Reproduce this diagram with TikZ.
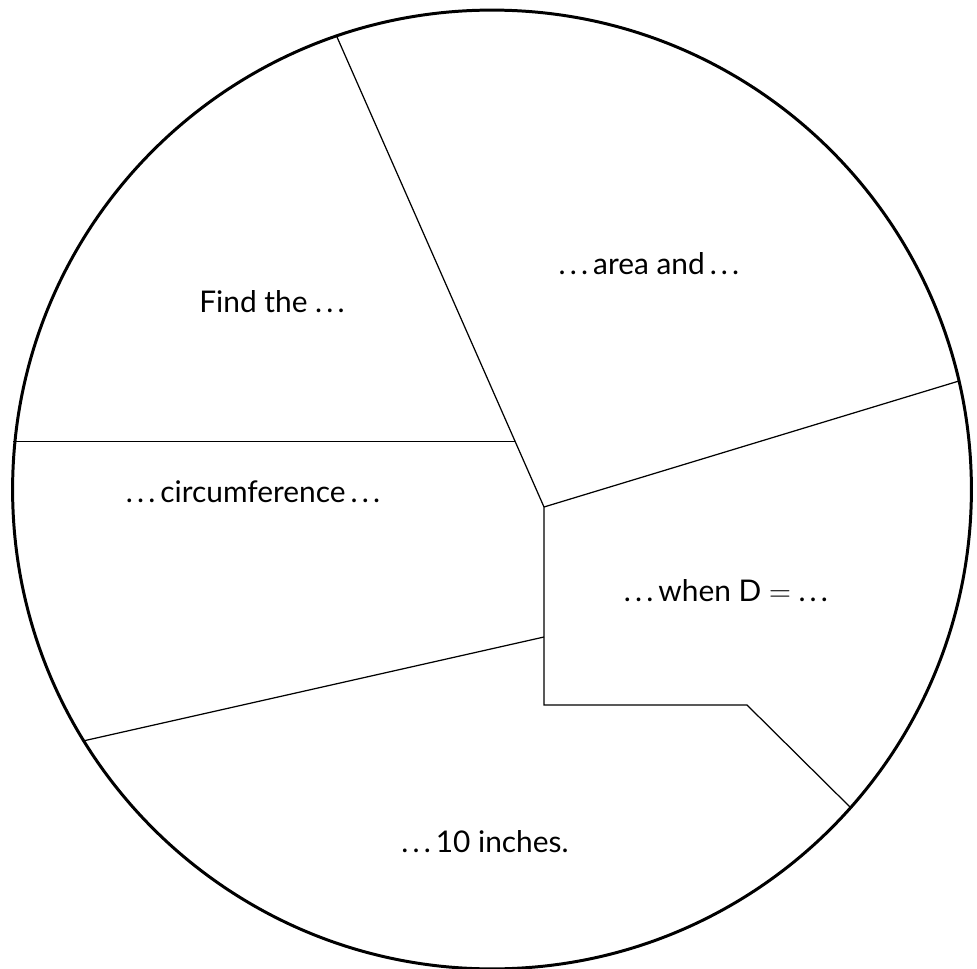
\documentclass[tikz,border=0pt]{standalone}
\usepackage{fontspec}
\setsansfont{Lato}
\usepackage{tikz}
\usetikzlibrary{positioning}
\newcommand{\dotrun}{.\kern0.14em.\kern0.14em.}

\begin{document}
\begin{tikzpicture}[
    x=0.02cm, y=-0.02cm,
    every node/.style={font=\sffamily\fontsize{17}{20}\selectfont, align=center},
    rim/.style={line width=1.7pt},
    cut/.style={line width=0.7pt}
  ]
    \useasboundingbox (0,0) rectangle (977,969);

    % Outer circle
    \coordinate (centre) at (492,489.5);
    \draw[rim] (centre) circle[radius=9.59cm];

    % Corners of the pieces
    \coordinate (hub) at (544,507);
    \coordinate (topcut) at (337,37);
    \coordinate (knee) at (515,441.7);
    \coordinate (leftcut) at (13,441.7);
    \coordinate (rightcut) at (959,381);
    \coordinate (mid) at (544,637);
    \coordinate (lowcut) at (83,741);
    \coordinate (foot) at (544,705);
    \coordinate (step) at (747,705);
    \coordinate (diagcut) at (851,808);

    % Cuts
    \draw[cut] (topcut) -- (hub);
    \draw[cut] (leftcut) -- (knee);
    \draw[cut] (hub) -- (rightcut);
    \draw[cut] (hub) -- (mid) -- (foot) -- (step) -- (diagcut);
    \draw[cut] (lowcut) -- (mid);

    % Labels
    \node (find) at (272,302) {Find the \dotrun};
    \node (area) at (649,264) {\dotrun\,area and\,\dotrun};
    \node (when) at (726,591) {\dotrun\,when D $=$ \dotrun};
    \node (circ) at (253,492) {\dotrun\,circumference\,\dotrun};
    \node (inch) at (485,842) {\dotrun\,10 inches.};
  \end{tikzpicture}
\end{document}
